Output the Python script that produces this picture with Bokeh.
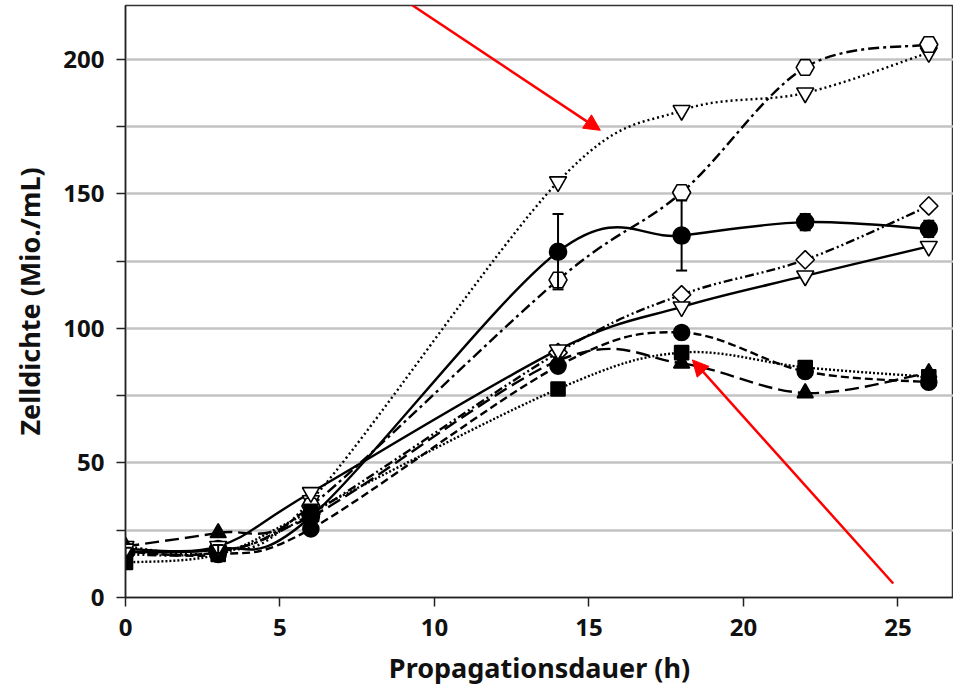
import math
from bokeh.plotting import figure
from bokeh.models import (Range1d, FixedTicker, Whisker, ColumnDataSource,
                          Arrow, NormalHead, TeeHead)
from bokeh.embed import file_html
from bokeh.resources import INLINE

# ---------------- data ----------------
hours = [0, 3, 6, 14, 18, 22, 26]
hexagon_dashdot = [17, 17, 34, 118, 150.5, 197, 205.5]
tri_open_dotted = [19, 17, 36, 154.5, 181, 187.5, 202.5]
diamond_dashdotdot = [16, 17, 31, 91, 112.5, 125.5, 145.5]
circle_solid = [17, 18, 30, 128.5, 134.5, 139.5, 137]
circle_solid_err = [1.5, 1.5, 2, 14, 13, 3, 3]
tri_open_solid = [18, 19, 39, 92, 108, 119.5, 130.5]
circle_dashed = [17, 16, 25.5, 86, 98.5, 84, 80]
square_dotted = [13, 16, 32, 77.5, 91, 85.5, 82]
triup_longdash = [19, 24, 30, 88, 87, 76, 83.5]

x_ticks = [0, 5, 10, 15, 20, 25]
y_ticks = [0, 25, 50, 75, 100, 125, 150, 175, 200]
y_labels = {0: "0", 50: "50", 100: "100", 150: "150", 200: "200"}

FONT = "Noto Sans"

p = figure(width=953, height=688, output_backend="svg", toolbar_location=None,
           x_range=Range1d(0, 26.8), y_range=Range1d(0, 220),
           min_border_left=125, min_border_right=0, min_border_top=5, min_border_bottom=91)
p.outline_line_color = "#333333"
p.outline_line_width = 1.5
p.background_fill_color = "white"
p.border_fill_color = "white"

# axes
p.xaxis.ticker = FixedTicker(ticks=x_ticks)
p.yaxis.ticker = FixedTicker(ticks=y_ticks)
p.yaxis.major_label_overrides = {t: y_labels.get(t, "") for t in y_ticks}
for ax in (p.xaxis[0], p.yaxis[0]):
    ax.minor_tick_line_color = None
    ax.major_tick_in = 0
    ax.major_tick_out = 9
    ax.major_tick_line_width = 1.5
    ax.major_tick_line_color = "#222222"
    ax.axis_line_color = "#222222"
    ax.axis_line_width = 1.5
    ax.major_label_text_font = FONT
    ax.major_label_text_font_style = "bold"
    ax.major_label_text_font_size = "24px"
    ax.major_label_text_color = "#111111"
    ax.axis_label_text_font = FONT
    ax.axis_label_text_font_style = "bold"
    ax.axis_label_text_font_size = "27px"
    ax.axis_label_text_color = "#111111"
p.xaxis.axis_label = "Propagationsdauer (h)"
p.yaxis.axis_label = "Zelldichte (Mio./mL)"
p.xaxis.major_label_standoff = 12
p.xaxis.axis_label_standoff = 10
p.yaxis.major_label_standoff = 12
p.yaxis.axis_label_standoff = 12

p.xgrid.visible = False
p.ygrid.ticker = FixedTicker(ticks=[25, 50, 75, 100, 125, 150, 175, 200])
p.ygrid.grid_line_color = "#c3c3c3"
p.ygrid.grid_line_width = 2.5


def smooth(xs, ys):
    n = len(xs)
    d = dict(x0=[], y0=[], x1=[], y1=[], cx0=[], cy0=[], cx1=[], cy1=[])
    for i in range(n - 1):
        a = i - 1 if i > 0 else i
        b = i + 2 if i + 2 < n else i + 1
        d["x0"].append(xs[i]); d["y0"].append(ys[i])
        d["x1"].append(xs[i + 1]); d["y1"].append(ys[i + 1])
        d["cx0"].append(xs[i] + (xs[i + 1] - xs[a]) / 6)
        d["cy0"].append(ys[i] + (ys[i + 1] - ys[a]) / 6)
        d["cx1"].append(xs[i + 1] - (xs[b] - xs[i]) / 6)
        d["cy1"].append(ys[i + 1] - (ys[b] - ys[i]) / 6)
    return ColumnDataSource(d)


# (values, marker, fill, dash, size, angle)
series = [
    (diamond_dashdotdot, "square", "white", "9 3 2 3 2 3", 13, math.pi / 4),
    (tri_open_dotted, "inverted_triangle", "white", "2 3", 17, 0),
    (hexagon_dashdot, "hex", "white", "11 4 3 4", 18, 0),
    (circle_dashed, "circle", "black", "8 4", 16, 0),
    (square_dotted, "square", "black", "2 2", 14, 0),
    (triup_longdash, "triangle", "black", "14 6", 16, 0),
    (circle_solid, "circle", "black", "solid", 17, 0),
    (tri_open_solid, "inverted_triangle", "white", "solid", 17, 0),
]

for ys, marker, fill, dash, size, ang in series:
    p.bezier(x0="x0", y0="y0", x1="x1", y1="y1", cx0="cx0", cy0="cy0", cx1="cx1", cy1="cy1",
             source=smooth(hours, ys), line_color="black", line_width=2.4, line_dash=dash)

err_src = ColumnDataSource(dict(
    x=hours,
    upper=[v + e for v, e in zip(circle_solid, circle_solid_err)],
    lower=[v - e for v, e in zip(circle_solid, circle_solid_err)],
))
w = Whisker(source=err_src, base="x", upper="upper", lower="lower", line_width=2, line_color="black",
            upper_head=TeeHead(size=11, line_width=2), lower_head=TeeHead(size=11, line_width=2))
w.level = "glyph"
p.add_layout(w)

for ys, marker, fill, dash, size, ang in series:
    p.scatter(hours, ys, marker=marker, size=size, angle=ang, fill_color=fill,
              line_color="black", line_width=1.6)

# red arrows
p.add_layout(Arrow(x_start=8.64, y_start=225, x_end=15.37, y_end=173.6, line_color="red", line_width=2.5,
                   end=NormalHead(size=16, fill_color="red", line_color="red")))
p.add_layout(Arrow(x_start=24.85, y_start=5.2, x_end=18.35, y_end=88.3, line_color="red", line_width=2.5,
                   end=NormalHead(size=16, fill_color="red", line_color="red")))

open("out.html", "w").write(file_html(p, INLINE))
